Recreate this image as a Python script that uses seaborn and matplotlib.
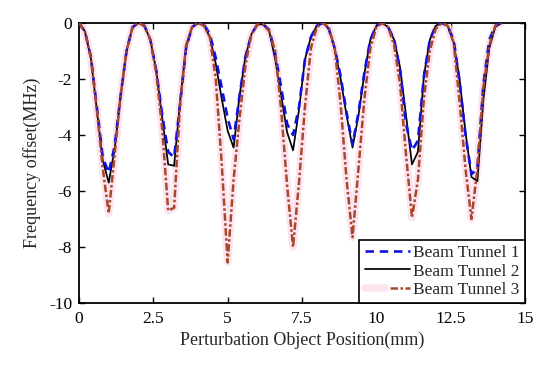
import numpy as np
import pandas as pd
import matplotlib
matplotlib.use("Agg")
import matplotlib.pyplot as plt
import seaborn as sns
from matplotlib.legend_handler import HandlerTuple

# Perturbation object position (mm), sampled every 0.2 mm
position = np.round(np.arange(0, 14.21, 0.2), 1)

# Frequency offset (MHz) for each beam tunnel
tunnel1 = [0, -0.3, -1.2, -3.0, -4.8, -5.35, -4.4, -2.6, -1.0, -0.15, 0,
           -0.1, -0.6, -1.7, -3.3, -4.6, -4.8, -2.9, -0.9, -0.15, 0,
           -0.05, -0.4, -1.25, -2.3, -3.4, -4.15, -2.6, -1.2, -0.4, -0.05,
           -0.05, -0.25, -1.1, -2.3, -3.6, -4.0, -3.0, -1.3, -0.5, -0.1, 0,
           -0.2, -0.9, -1.9, -3.2, -4.35, -3.2, -1.75, -0.6, -0.1, 0,
           -0.15, -0.6, -1.7, -3.6, -4.55, -4.2, -1.9, -0.6, -0.1, 0,
           -0.1, -0.6, -2.1, -4.0, -5.4, -5.2, -2.2, -0.6, -0.1, 0]

tunnel2 = [0, -0.3, -1.25, -3.1, -4.9, -5.7, -4.5, -2.6, -1.0, -0.15, 0,
           -0.1, -0.6, -1.7, -3.4, -5.05, -5.1, -2.8, -0.9, -0.15, 0,
           -0.07, -0.5, -1.45, -2.7, -3.85, -4.45, -2.6, -1.2, -0.4, -0.05,
           -0.05, -0.3, -1.3, -2.6, -3.9, -4.55, -3.1, -1.3, -0.5, -0.1, 0,
           -0.2, -0.9, -2.0, -3.3, -4.45, -3.3, -1.8, -0.6, -0.1, 0,
           -0.15, -0.6, -1.6, -3.3, -5.05, -4.6, -1.9, -0.6, -0.1, 0,
           -0.1, -0.7, -2.0, -3.9, -5.5, -5.65, -2.75, -0.9, -0.15, 0]

tunnel3 = [0, -0.3, -1.25, -3.1, -5.2, -6.8, -4.7, -2.6, -1.0, -0.15, 0,
           -0.1, -0.6, -1.8, -3.8, -6.7, -6.6, -2.9, -0.8, -0.15, 0,
           -0.1, -0.5, -2.0, -5.0, -8.55, -5.6, -3.4, -1.5, -0.4, -0.05,
           -0.05, -0.3, -1.0, -3.1, -5.8, -8.0, -5.7, -3.0, -0.9, -0.15, 0,
           -0.15, -0.9, -2.9, -5.6, -7.65, -5.2, -2.7, -0.9, -0.15, 0,
           -0.15, -0.8, -2.2, -4.7, -6.95, -5.6, -2.7, -1.0, -0.2, 0,
           -0.1, -0.7, -2.8, -5.2, -7.0, -5.2, -2.3, -0.8, -0.1, 0]

labels = ["Beam Tunnel 1", "Beam Tunnel 2", "Beam Tunnel 3"]
x_ticks = [0, 2.5, 5, 7.5, 10, 12.5, 15]
x_tick_labels = ["0", "2.5", "5", "7.5", "10", "12.5", "15"]
y_ticks = [0, -2, -4, -6, -8, -10]
y_tick_labels = ["0", "-2", "-4", "-6", "-8", "-10"]

sns.set_style("ticks")
plt.rcParams["font.family"] = ["Liberation Serif", "DejaVu Serif"]
plt.rcParams["axes.unicode_minus"] = False

fig = plt.figure(figsize=(5.5, 3.66), dpi=100)
ax = fig.add_axes([0.1436, 0.1721, 0.8109, 0.7651])

df = pd.DataFrame({"x": position, "t1": tunnel1, "t2": tunnel2, "t3": tunnel3})

# faint pink halo behind tunnel 3
sns.lineplot(data=df, x="x", y="t3", ax=ax, color="#fbdcec", lw=5.5,
             alpha=0.75, legend=False, zorder=1, solid_capstyle="round")
halo = ax.lines[-1]

sns.lineplot(data=df, x="x", y="t1", ax=ax, color="#1010e0", lw=1.9,
             linestyle=(0, (3.2, 2.2)), legend=False, zorder=3)
l1 = ax.lines[-1]
sns.lineplot(data=df, x="x", y="t2", ax=ax, color="black", lw=1.25,
             legend=False, zorder=2)
l2 = ax.lines[-1]
sns.lineplot(data=df, x="x", y="t3", ax=ax, color="#a8482a", lw=1.8,
             linestyle=(0, (3.0, 1.0, 1.0, 1.0)), legend=False, zorder=4)
l3 = ax.lines[-1]

ax.set_xlim(0, 15)
ax.set_ylim(-10, 0)
ax.set_xticks(x_ticks)
ax.set_xticklabels(x_tick_labels)
ax.set_yticks(y_ticks)
ax.set_yticklabels(y_tick_labels)
ax.tick_params(direction="in", top=True, right=True, length=4, width=1.0,
               labelsize=12.5, colors="black")
ax.tick_params(axis="x", pad=6)
ax.tick_params(axis="y", pad=5)
for s in ax.spines.values():
    s.set_linewidth(1.3)
    s.set_color("black")
    s.set_visible(True)

ax.set_xlabel("Perturbation Object Position(mm)", fontsize=13, labelpad=3)
ax.set_ylabel("Frequency offset(MHz)", fontsize=13, labelpad=6)

leg = ax.legend([l1, l2, (halo, l3)], labels, loc="lower right",
                borderaxespad=0, fontsize=12.5, frameon=True, fancybox=False,
                edgecolor="black", framealpha=1, handlelength=2.6,
                handletextpad=0.2, labelspacing=0.12, borderpad=0.3,
                handler_map={tuple: HandlerTuple(ndivide=None)})
leg.get_frame().set_linewidth(1.2)

fig.savefig("out.png", dpi=100)
